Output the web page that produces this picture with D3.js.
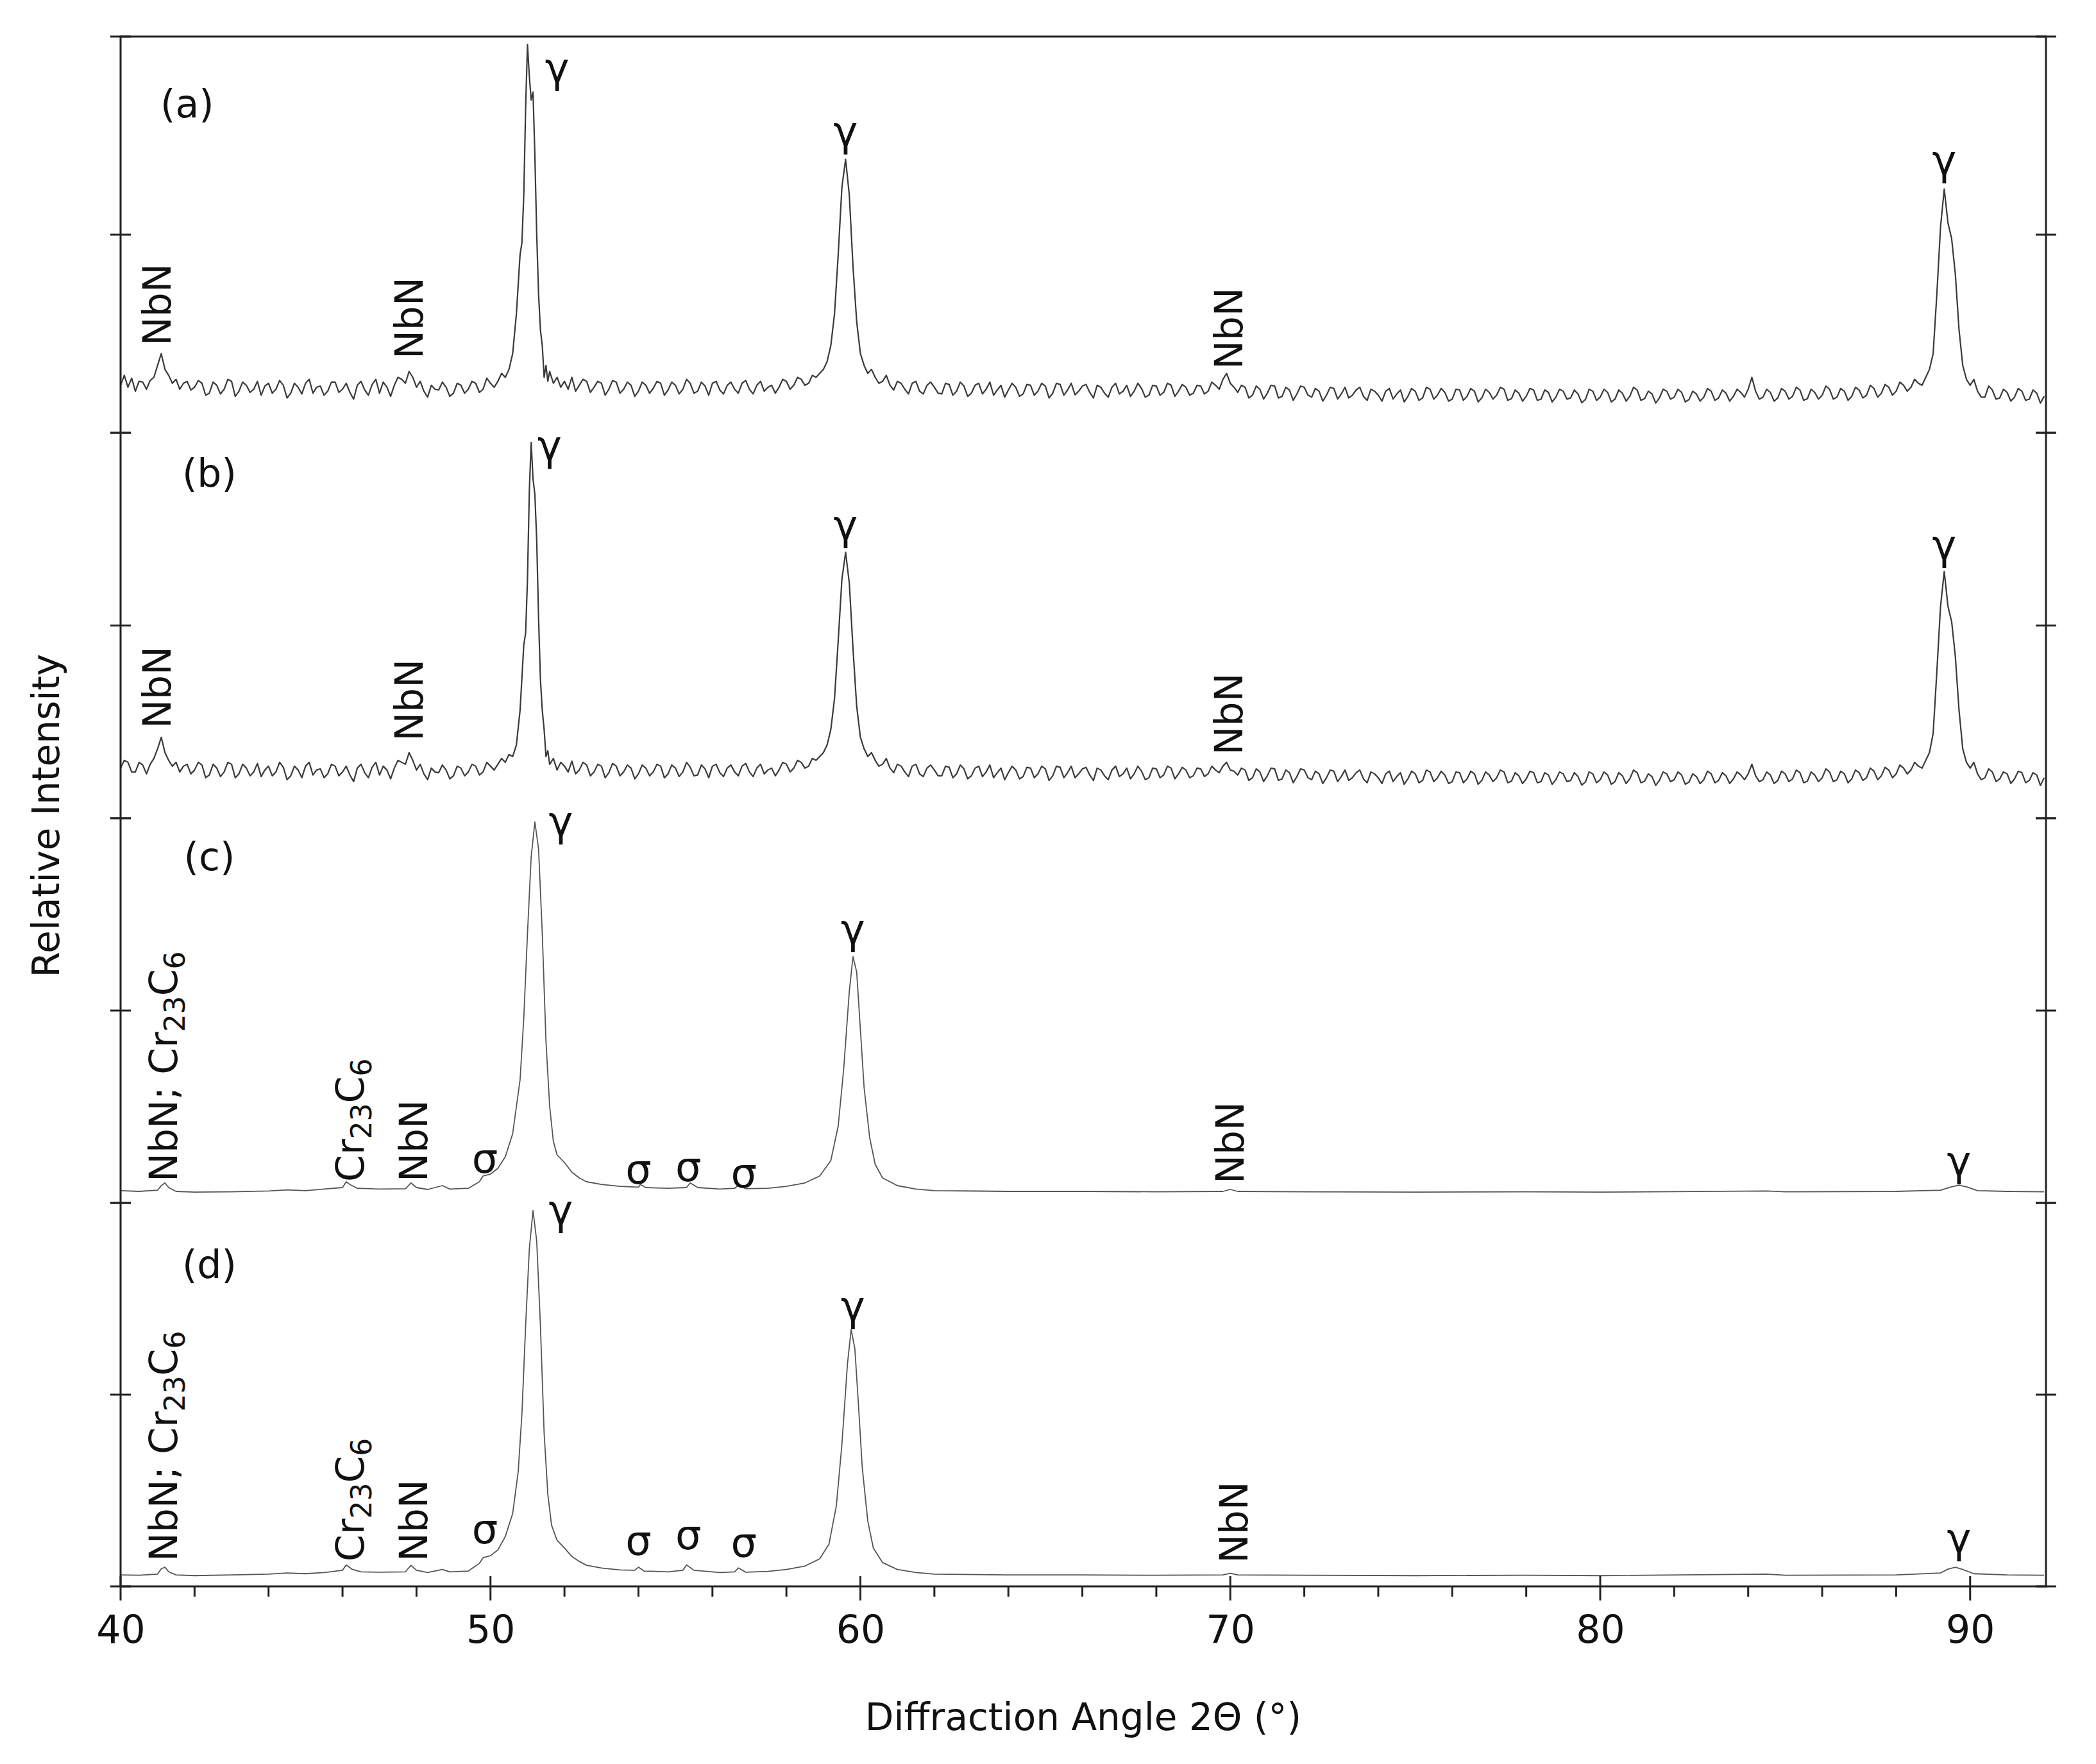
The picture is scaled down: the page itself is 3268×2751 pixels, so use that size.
<!DOCTYPE html>
<html><head><meta charset="utf-8">
<script src="https://cdn.jsdelivr.net/npm/d3@7"></script>
<style>body{margin:0;background:#fff}</style></head>
<body><svg id="c" width="3268" height="2751"></svg>
<script>
// Angle / relative intensity (0-100 within each panel)
const panelA = [[40,12],[40.1,14.5],[40.2,11.5],[40.3,13.8],[40.4,10.5],[40.5,13],[40.6,12.8],[40.7,11],[40.8,13.2],[40.9,14],[41,17],[41.1,20],[41.2,16],[41.3,14.5],[41.4,12.5],[41.5,13.5],[41.6,11],[41.7,12.5],[41.8,13],[41.9,10.8],[42,11.5],[42.1,13.2],[42.2,12.5],[42.3,9.5],[42.4,10],[42.5,12.8],[42.6,12],[42.7,9.8],[42.8,11],[42.9,13.5],[43,13],[43.1,9.2],[43.2,10.5],[43.3,12.8],[43.4,12],[43.5,10.2],[43.6,11],[43.7,13],[43.8,9.5],[43.9,11.8],[44,12.5],[44.1,10],[44.2,11],[44.3,13.2],[44.4,12],[44.5,8.8],[44.6,10],[44.7,12.5],[44.8,11.5],[44.9,9.8],[45,12.5],[45.1,13.5],[45.2,10],[45.3,11.5],[45.4,11.8],[45.5,9.5],[45.6,10.5],[45.7,12.8],[45.8,12.8],[45.9,10.2],[46,11],[46.1,12.5],[46.2,10.2],[46.3,8.5],[46.4,12],[46.5,13],[46.6,10.8],[46.7,9.5],[46.8,12.2],[46.9,13.5],[47,10],[47.1,12.8],[47.2,11.5],[47.3,9.2],[47.4,12],[47.5,14],[47.6,13.5],[47.7,12.5],[47.8,15.5],[47.9,14],[48,11.5],[48.1,13],[48.2,10.5],[48.3,9],[48.4,12],[48.5,11],[48.6,10.8],[48.7,12.8],[48.8,11.5],[48.9,9.2],[49,10],[49.1,12.5],[49.2,12],[49.3,10],[49.4,11],[49.5,13],[49.6,12.5],[49.7,10.2],[49.8,11],[49.9,13.8],[50,12.5],[50.1,11.5],[50.2,13],[50.3,15],[50.4,14],[50.5,16],[50.6,20],[50.7,30],[50.8,45],[50.85,48],[50.9,60],[50.95,82],[51,98],[51.05,90],[51.1,84],[51.15,86],[51.2,70],[51.25,50],[51.3,35],[51.35,26],[51.4,22],[51.45,14],[51.5,17],[51.55,13],[51.6,15.5],[51.7,12.5],[51.8,14],[51.9,11.5],[52,13],[52.1,11],[52.2,14],[52.3,10.5],[52.4,12],[52.5,13.5],[52.6,13],[52.7,10.2],[52.8,11.5],[52.9,13],[53,12.5],[53.1,9.5],[53.2,11],[53.3,13.2],[53.4,12.8],[53.5,10],[53.6,11],[53.7,12.8],[53.8,12],[53.9,9.2],[54,10.5],[54.1,12.8],[54.2,12],[54.3,10],[54.4,11.2],[54.5,13],[54.6,12.5],[54.7,9.5],[54.8,10.8],[54.9,12.8],[55,12],[55.1,9.8],[55.2,11],[55.3,13.5],[55.4,12.5],[55.5,10],[55.6,10.5],[55.7,12.8],[55.8,11.8],[55.9,9.5],[56,12.5],[56.1,13],[56.2,10.8],[56.3,9.8],[56.4,12],[56.5,12.8],[56.6,11],[56.7,10],[56.8,12.5],[56.9,13.2],[57,11],[57.1,9.8],[57.2,12],[57.3,13],[57.4,10.5],[57.5,11.5],[57.6,12],[57.7,10],[57.8,11.5],[57.9,13.5],[58,13],[58.1,11],[58.2,12],[58.3,14],[58.4,13.5],[58.5,12],[58.6,12.5],[58.7,14.5],[58.8,14],[58.9,15],[59,16],[59.1,18],[59.2,22],[59.3,30],[59.4,45],[59.5,62],[59.6,69],[59.7,60],[59.8,42],[59.9,28],[60,20],[60.1,17],[60.2,15],[60.3,16],[60.4,14],[60.5,12.5],[60.6,13],[60.7,14.5],[60.8,12],[60.9,10.8],[61,13],[61.1,12.5],[61.2,11],[61.3,9.8],[61.4,12.5],[61.5,13],[61.6,10.5],[61.7,9.8],[61.8,12],[61.9,12.8],[62,11.5],[62.1,10],[62.2,9.8],[62.3,12.5],[62.4,12.2],[62.5,9.5],[62.6,10.5],[62.7,12.8],[62.8,11.8],[62.9,9.2],[63,10],[63.1,12],[63.2,12.5],[63.3,9.8],[63.4,11],[63.5,12.8],[63.6,9.5],[63.7,10.8],[63.8,12],[63.9,9],[64,10.8],[64.1,12.5],[64.2,11.5],[64.3,9.2],[64.4,9.8],[64.5,12.2],[64.6,12],[64.7,9.5],[64.8,10.5],[64.9,12.5],[65,11.8],[65.1,8.8],[65.2,10],[65.3,12.5],[65.4,12.2],[65.5,9.5],[65.6,10.8],[65.7,12.5],[65.8,9.6],[65.9,10.5],[66,11.8],[66.1,12.2],[66.2,10.2],[66.3,8.8],[66.4,12],[66.5,11.5],[66.6,10],[66.7,9],[66.8,11.5],[66.9,12.5],[67,9.8],[67.1,10.5],[67.2,12],[67.3,9.2],[67.4,10.5],[67.5,12.5],[67.6,11.2],[67.7,9],[67.8,9.5],[67.9,12],[68,11.8],[68.1,9.5],[68.2,10.2],[68.3,12.5],[68.4,12],[68.5,9.2],[68.6,10.5],[68.7,12.2],[68.8,11.5],[68.9,9.5],[69,10],[69.1,12],[69.2,11.8],[69.3,9.8],[69.4,10.5],[69.5,12.8],[69.6,12],[69.7,11],[69.8,13.5],[69.9,15],[70,12.5],[70.1,11.5],[70.2,10.2],[70.3,12],[70.4,11.5],[70.5,8.8],[70.6,9.5],[70.7,11.8],[70.8,11],[70.9,8.5],[71,10],[71.1,12],[71.2,11.8],[71.3,8.8],[71.4,9.2],[71.5,11.5],[71.6,10.8],[71.7,8.2],[71.8,9.8],[71.9,11.8],[72,11.5],[72.1,9.5],[72.2,9],[72.3,11.2],[72.4,10.5],[72.5,8],[72.6,9.5],[72.7,11.5],[72.8,11.2],[72.9,8.5],[73,9.8],[73.1,11.5],[73.2,8.8],[73.3,9.5],[73.4,10.8],[73.5,11.5],[73.6,9.2],[73.7,8.2],[73.8,11],[73.9,10.5],[74,9.5],[74.1,8],[74.2,10.5],[74.3,11.2],[74.4,8.5],[74.5,9.8],[74.6,10.8],[74.7,7.8],[74.8,9.2],[74.9,11.2],[75,10.5],[75.1,8.2],[75.2,8.8],[75.3,11.5],[75.4,11],[75.5,8.5],[75.6,9.5],[75.7,11.2],[75.8,10.2],[75.9,8],[76,8.5],[76.1,11],[76.2,10.8],[76.3,8.2],[76.4,9.2],[76.5,11.2],[76.6,10.5],[76.7,7.8],[76.8,8.8],[76.9,11],[77,10.2],[77.1,8.5],[77.2,9.5],[77.3,11.5],[77.4,11],[77.5,8.2],[77.6,8.6],[77.7,10.8],[77.8,10],[77.9,8],[78,9.2],[78.1,11.2],[78.2,10.8],[78.3,8.2],[78.4,8.5],[78.5,10.8],[78.6,10.2],[78.7,7.8],[78.8,9],[78.9,11],[79,10.5],[79.1,8.5],[79.2,8.8],[79.3,10.8],[79.4,9.8],[79.5,7.6],[79.6,8.4],[79.7,11],[79.8,10.5],[79.9,8.2],[80,9],[80.1,11],[80.2,10.2],[80.3,7.8],[80.4,8.5],[80.5,10.8],[80.6,10],[80.7,8],[80.8,9.2],[80.9,11.5],[81,10.8],[81.1,8.2],[81.2,8.6],[81.3,10.5],[81.4,9.8],[81.5,7.5],[81.6,8.8],[81.7,11],[81.8,10.5],[81.9,8.5],[82,9],[82.1,11],[82.2,10.2],[82.3,7.8],[82.4,8.4],[82.5,10.5],[82.6,9.8],[82.7,8],[82.8,9],[82.9,11.2],[83,10.5],[83.1,8.2],[83.2,8.8],[83.3,10.8],[83.4,10],[83.5,8],[83.6,9.2],[83.7,11],[83.8,10.2],[83.9,9],[84,11],[84.1,14],[84.2,10.5],[84.3,8.5],[84.4,9],[84.5,11],[84.6,10.2],[84.7,8],[84.8,8.8],[84.9,11.2],[85,10.5],[85.1,8.5],[85.2,9.2],[85.3,11.5],[85.4,10.8],[85.5,8.2],[85.6,8.6],[85.7,11],[85.8,10.2],[85.9,8.5],[86,9.5],[86.1,11.8],[86.2,11],[86.3,8.5],[86.4,9],[86.5,11.2],[86.6,10.5],[86.7,8.2],[86.8,9.2],[86.9,11.5],[87,10.8],[87.1,8.8],[87.2,9.5],[87.3,12],[87.4,11.2],[87.5,9],[87.6,10],[87.7,12.2],[87.8,11.5],[87.9,9.5],[88,10.5],[88.1,12.8],[88.2,12],[88.3,10.5],[88.4,11.5],[88.5,13.5],[88.6,12.5],[88.7,12],[88.8,14],[88.9,16],[89,20],[89.1,35],[89.2,52],[89.3,61.5],[89.4,53],[89.5,49],[89.6,40],[89.7,26],[89.8,17],[89.9,13.5],[90,12],[90.1,13.5],[90.2,10.5],[90.3,9],[90.4,9],[90.5,11.8],[90.6,10.8],[90.7,8.5],[90.8,8.8],[90.9,11],[91,10.2],[91.1,8],[91.2,9],[91.3,11.2],[91.4,10.5],[91.5,8.2],[91.6,8.5],[91.7,10.8],[91.8,10],[91.9,7.5],[92,9.2]];

const panelB = [[40,13],[40.1,15],[40.2,14.5],[40.3,12],[40.4,12],[40.5,14.5],[40.6,13.8],[40.7,11.5],[40.8,14],[40.9,15.5],[41,18],[41.1,21],[41.2,17],[41.3,15],[41.4,13.5],[41.5,14.5],[41.6,12],[41.7,13.5],[41.8,14],[41.9,11.5],[42,12.5],[42.1,14.5],[42.2,13.8],[42.3,10.5],[42.4,11.2],[42.5,14],[42.6,13],[42.7,10.8],[42.8,12],[42.9,14.5],[43,14],[43.1,10.5],[43.2,11.5],[43.3,14],[43.4,13],[43.5,11],[43.6,12],[43.7,14.2],[43.8,10.8],[43.9,12.5],[44,13.5],[44.1,11],[44.2,12],[44.3,14.5],[44.4,13.2],[44.5,10],[44.6,11],[44.7,13.5],[44.8,12.5],[44.9,10.5],[45,13.5],[45.1,14.5],[45.2,11.2],[45.3,12.5],[45.4,12.8],[45.5,10.5],[45.6,11.5],[45.7,14],[45.8,13.5],[45.9,11],[46,12],[46.1,13.5],[46.2,11.2],[46.3,9.5],[46.4,13],[46.5,14],[46.6,11.8],[46.7,10.5],[46.8,13.2],[46.9,14.5],[47,11.2],[47.1,13.5],[47.2,12.5],[47.3,10.2],[47.4,13],[47.5,15],[47.6,14.5],[47.7,14],[47.8,17],[47.9,15],[48,12.5],[48.1,14],[48.2,11.5],[48.3,10],[48.4,13],[48.5,12],[48.6,11.8],[48.7,13.8],[48.8,12.5],[48.9,10.2],[49,11],[49.1,13.5],[49.2,13],[49.3,11],[49.4,12],[49.5,14],[49.6,13.5],[49.7,11.2],[49.8,12],[49.9,14.5],[50,13.5],[50.1,12.5],[50.2,14],[50.3,15.5],[50.4,14.5],[50.5,16.5],[50.6,16],[50.7,19],[50.8,28],[50.9,45],[50.95,48],[51,62],[51.05,85],[51.1,97.5],[51.15,88],[51.2,84],[51.25,72],[51.3,52],[51.35,36],[51.4,28],[51.45,23],[51.5,16],[51.55,17.5],[51.6,14],[51.7,15.5],[51.8,12.5],[51.9,14.5],[52,13.5],[52.1,12],[52.2,14.8],[52.3,11.5],[52.4,12.5],[52.5,14.5],[52.6,13.8],[52.7,11],[52.8,12],[52.9,14],[53,13.5],[53.1,10.5],[53.2,11.8],[53.3,14.2],[53.4,13.5],[53.5,11],[53.6,12],[53.7,13.8],[53.8,13],[53.9,10.2],[54,11.5],[54.1,13.8],[54.2,13],[54.3,11],[54.4,12],[54.5,14],[54.6,13.5],[54.7,10.5],[54.8,11.5],[54.9,13.8],[55,13],[55.1,10.8],[55.2,12],[55.3,14.5],[55.4,13.2],[55.5,11],[55.6,11.2],[55.7,13.8],[55.8,12.8],[55.9,10.5],[56,13.5],[56.1,14],[56.2,11.8],[56.3,10.8],[56.4,13],[56.5,13.8],[56.6,12],[56.7,11],[56.8,13.5],[56.9,14.2],[57,12],[57.1,10.8],[57.2,13],[57.3,14],[57.4,11.5],[57.5,12.5],[57.6,13],[57.7,11],[57.8,12.5],[57.9,14.5],[58,14],[58.1,12],[58.2,13],[58.3,15],[58.4,14.5],[58.5,13],[58.6,13.5],[58.7,15.5],[58.8,15],[58.9,16],[59,17],[59.1,19],[59.2,23],[59.3,31],[59.4,46],[59.5,62],[59.6,69],[59.7,61],[59.8,44],[59.9,29],[60,21],[60.1,18],[60.2,16],[60.3,17],[60.4,15],[60.5,13.5],[60.6,14],[60.7,15.5],[60.8,13],[60.9,11.8],[61,14],[61.1,13.5],[61.2,12],[61.3,10.8],[61.4,13.5],[61.5,14],[61.6,11.5],[61.7,10.8],[61.8,13],[61.9,13.8],[62,12.5],[62.1,11],[62.2,11],[62.3,13.5],[62.4,13.2],[62.5,10.5],[62.6,11.5],[62.7,13.8],[62.8,12.8],[62.9,10.2],[63,11],[63.1,13],[63.2,13.5],[63.3,10.8],[63.4,12],[63.5,13.8],[63.6,10.5],[63.7,11.8],[63.8,13],[63.9,10],[64,11.8],[64.1,13.5],[64.2,12.5],[64.3,10.2],[64.4,10.8],[64.5,13.2],[64.6,13],[64.7,10.5],[64.8,11.5],[64.9,13.5],[65,12.8],[65.1,9.8],[65.2,11],[65.3,13.5],[65.4,13.2],[65.5,10.5],[65.6,11.8],[65.7,13.5],[65.8,10.5],[65.9,11.5],[66,12.8],[66.1,13.2],[66.2,11.2],[66.3,9.8],[66.4,13],[66.5,12.5],[66.6,11],[66.7,10],[66.8,12.5],[66.9,13.5],[67,10.8],[67.1,11.5],[67.2,13],[67.3,10.2],[67.4,11.5],[67.5,13.5],[67.6,12.2],[67.7,10],[67.8,10.5],[67.9,13],[68,12.8],[68.1,10.5],[68.2,11.2],[68.3,13.5],[68.4,13],[68.5,10.2],[68.6,11.5],[68.7,13.2],[68.8,12.5],[68.9,10.5],[69,11],[69.1,13],[69.2,12.8],[69.3,10.8],[69.4,11.5],[69.5,13.5],[69.6,12.5],[69.7,11.8],[69.8,13.5],[69.9,14.5],[70,12.5],[70.1,12.2],[70.2,11.2],[70.3,13],[70.4,12.5],[70.5,9.8],[70.6,10.5],[70.7,12.8],[70.8,12],[70.9,9.5],[71,11],[71.1,13],[71.2,12.8],[71.3,9.8],[71.4,10.2],[71.5,12.5],[71.6,11.8],[71.7,9.2],[71.8,10.8],[71.9,12.8],[72,12.5],[72.1,10.5],[72.2,10],[72.3,12.2],[72.4,11.5],[72.5,9],[72.6,10.5],[72.7,12.5],[72.8,12.2],[72.9,9.5],[73,10.8],[73.1,12.5],[73.2,9.8],[73.3,10.5],[73.4,11.8],[73.5,12.5],[73.6,10.2],[73.7,9.2],[73.8,12],[73.9,11.5],[74,10.5],[74.1,9],[74.2,11.5],[74.3,12.2],[74.4,9.5],[74.5,10.8],[74.6,11.8],[74.7,8.8],[74.8,10.2],[74.9,12.2],[75,11.5],[75.1,9.2],[75.2,9.8],[75.3,12.5],[75.4,12],[75.5,9.5],[75.6,10.5],[75.7,12.2],[75.8,11.2],[75.9,9],[76,9.5],[76.1,12],[76.2,11.8],[76.3,9.2],[76.4,10.2],[76.5,12.2],[76.6,11.5],[76.7,8.8],[76.8,9.8],[76.9,12],[77,11.2],[77.1,9.5],[77.2,10.5],[77.3,12.5],[77.4,12],[77.5,9.2],[77.6,9.6],[77.7,11.8],[77.8,11],[77.9,9],[78,10.2],[78.1,12.2],[78.2,11.8],[78.3,9.2],[78.4,9.5],[78.5,11.8],[78.6,11.2],[78.7,8.8],[78.8,10],[78.9,12],[79,11.5],[79.1,9.5],[79.2,9.8],[79.3,11.8],[79.4,10.8],[79.5,8.6],[79.6,9.4],[79.7,12],[79.8,11.5],[79.9,9.2],[80,10],[80.1,12],[80.2,11.2],[80.3,8.8],[80.4,9.5],[80.5,11.8],[80.6,11],[80.7,9],[80.8,10.2],[80.9,12.5],[81,11.8],[81.1,9.2],[81.2,9.6],[81.3,11.5],[81.4,10.8],[81.5,8.5],[81.6,9.8],[81.7,12],[81.8,11.5],[81.9,9.5],[82,10],[82.1,12],[82.2,11.2],[82.3,8.8],[82.4,9.4],[82.5,11.5],[82.6,10.8],[82.7,9],[82.8,10],[82.9,12.2],[83,11.5],[83.1,9.2],[83.2,9.8],[83.3,11.8],[83.4,11],[83.5,9],[83.6,10.2],[83.7,12],[83.8,11.2],[83.9,10],[84,11.5],[84.1,14],[84.2,11],[84.3,9.5],[84.4,10],[84.5,12],[84.6,11.2],[84.7,9],[84.8,9.8],[84.9,12.2],[85,11.5],[85.1,9.5],[85.2,10.2],[85.3,12.5],[85.4,11.8],[85.5,9.2],[85.6,9.6],[85.7,12],[85.8,11.2],[85.9,9.5],[86,10.5],[86.1,12.8],[86.2,12],[86.3,9.5],[86.4,10],[86.5,12.2],[86.6,11.5],[86.7,9.2],[86.8,10.2],[86.9,12.5],[87,11.8],[87.1,9.8],[87.2,10.5],[87.3,13],[87.4,12.2],[87.5,10],[87.6,11],[87.7,13.2],[87.8,12.5],[87.9,10.5],[88,11.5],[88.1,13.8],[88.2,13],[88.3,11.5],[88.4,12.5],[88.5,14.5],[88.6,13.5],[88.7,13],[88.8,15],[88.9,17],[89,22],[89.1,38],[89.2,55],[89.3,64],[89.4,55],[89.5,51],[89.6,42],[89.7,28],[89.8,18],[89.9,14.5],[90,13],[90.1,14.5],[90.2,11.5],[90.3,10],[90.4,10.5],[90.5,12.8],[90.6,12],[90.7,9.5],[90.8,10.2],[90.9,12],[91,11.5],[91.1,9],[91.2,10.2],[91.3,12.2],[91.4,11.8],[91.5,9.2],[91.6,9.8],[91.7,11.8],[91.8,11.2],[91.9,8.5],[92,10.5]];

const panelC = [[40,3.2],[40.5,3.0],[41,3.3],[41.1,4.5],[41.2,5.2],[41.3,4.0],[41.5,3.0],[42,2.8],[43,2.9],[44,3.1],[44.5,3.4],[45,3.2],[45.5,3.6],[46,4.0],[46.1,5.5],[46.2,4.8],[46.4,3.8],[47,3.6],[47.7,3.7],[47.85,5.2],[48,4.0],[48.3,3.5],[48.7,4.5],[48.9,3.6],[49.4,3.8],[49.7,5.5],[49.8,7],[50,7.5],[50.2,9],[50.4,12],[50.6,18],[50.8,32],[50.9,48],[51,70],[51.1,90],[51.2,99],[51.3,92],[51.4,70],[51.5,42],[51.6,25],[51.7,16],[51.8,12.5],[52,10.5],[52.2,8],[52.4,6.5],[52.6,5.5],[53,4.8],[53.5,4.3],[54,4.1],[54.05,4.8],[54.2,4],[54.8,3.8],[55.3,4.0],[55.4,5.2],[55.6,4.0],[56.2,3.6],[56.6,3.8],[56.7,4.6],[56.9,3.7],[57.5,3.8],[58,4.3],[58.5,5.2],[58.9,7],[59.2,11],[59.4,20],[59.55,35],[59.7,55],[59.8,64],[59.9,60],[60,45],[60.1,30],[60.25,17],[60.4,10],[60.6,6.5],[61,4.5],[61.5,3.6],[62,3.2],[64,3.0],[66,3.0],[68,2.9],[69.8,3.0],[70,3.5],[70.2,3.0],[72,2.9],[75,2.8],[78,2.9],[80,2.8],[84.5,3.1],[85,2.9],[88,3.0],[89.2,3.3],[89.5,4.2],[89.7,4.6],[89.9,4.2],[90.2,3.2],[91,3.0],[92,2.9]];

const panelD = [[40,3.0],[40.5,2.9],[41,3.2],[41.1,4.6],[41.2,5.0],[41.3,3.8],[41.5,3.0],[42,2.8],[43,3.0],[44,3.2],[44.5,3.5],[45,3.3],[45.5,3.6],[46,4.2],[46.1,5.6],[46.25,4.5],[46.5,3.8],[47,3.7],[47.7,3.8],[47.85,5.5],[48,4.2],[48.3,3.6],[48.7,4.4],[48.9,3.8],[49.4,4.0],[49.7,6],[49.8,7.5],[50,8],[50.2,9.5],[50.4,13],[50.6,19],[50.75,30],[50.85,45],[50.95,68],[51.05,88],[51.15,98],[51.25,90],[51.35,68],[51.45,40],[51.55,24],[51.65,16],[51.8,12],[52,10],[52.2,7.8],[52.4,6.5],[52.6,5.5],[53,4.8],[53.5,4.3],[53.9,4.2],[54,5.0],[54.15,4.0],[54.8,3.8],[55.2,4.2],[55.3,5.6],[55.5,4.2],[56.2,3.6],[56.6,3.8],[56.7,4.8],[56.9,3.7],[57.5,3.9],[58,4.4],[58.5,5.3],[58.9,7.2],[59.15,11],[59.35,21],[59.5,37],[59.65,58],[59.75,67],[59.85,62],[59.95,47],[60.05,31],[60.2,17],[60.35,10],[60.6,6.2],[61,4.4],[61.5,3.6],[62,3.2],[64,3.0],[66,3.0],[68,2.9],[69.8,3.0],[70,3.4],[70.2,3.0],[72,2.9],[75,2.8],[78,2.9],[80,2.8],[84.5,3.2],[85,2.9],[88,3.0],[89.2,3.5],[89.4,4.5],[89.6,5.0],[89.8,4.4],[90.1,3.3],[91,3.0],[92,2.9]];

const series = [panelA, panelB, panelC, panelD];
const xTicks = [40,50,60,70,80,90];
// labels: [panel, text, angle, intensity, rotated]
const peakLabels = [
 [0,"(a)",41.8,83,0],[0,"γ",51.8,92,0],[0,"γ",59.6,76,0],[0,"γ",89.3,68.6,0],
 [0,"NbN",40.98,22,1],[0,"NbN",47.8,18.6,1],[0,"NbN",69.96,16,1],
 [1,"(b)",42.4,89.5,0],[1,"γ",51.6,96.5,0],[1,"γ",59.6,76,0],[1,"γ",89.3,70.7,0],
 [1,"NbN",40.98,23.3,1],[1,"NbN",47.8,20,1],[1,"NbN",69.96,16.4,1],
 [2,"(c)",42.4,90,0],[2,"γ",51.9,99,0],[2,"γ",59.8,71,0],[2,"γ",89.7,10.8,0],
 [2,"NbN; Cr23C6",41.16,5.5,1],[2,"Cr23C6",46.2,5.5,1],[2,"NbN",47.93,5.5,1],[2,"NbN",70.0,5,1],
 [2,"σ",49.85,11.5,0],[2,"σ",54.0,8.7,0],[2,"σ",55.35,9.4,0],[2,"σ",56.85,7.7,0],
 [3,"(d)",42.4,84,0],[3,"γ",51.9,98,0],[3,"γ",59.8,73,0],[3,"γ",89.7,12.5,0],
 [3,"NbN; Cr23C6",41.16,6.5,1],[3,"Cr23C6",46.2,6.5,1],[3,"NbN",47.93,6.5,1],[3,"NbN",70.1,6,1],
 [3,"σ",49.85,15,0],[3,"σ",54.0,12,0],[3,"σ",55.35,13.5,0],[3,"σ",56.85,11.5,0]
];

const L=188, R=3190, T=57, B=2474;
const svg=d3.select("#c");
const F="DejaVu Sans";
const FS=60;
const x=d3.scaleLinear().domain([40,92.05]).range([L,R]);
const bounds=[T,675,1276,1876,B];
const ys=bounds.slice(0,4).map((t,i)=>d3.scaleLinear().domain([0,100]).range([bounds[i+1],t]));

const line=(y)=>d3.line().x(d=>x(d[0])).y(d=>y(d[1]));
series.forEach((s,i)=>{
  svg.append("path").datum(s).attr("d",line(ys[i])).attr("fill","none")
    .attr("stroke", i<2?"#3a3a3a":"#555").attr("stroke-width", i<2?2.2:1.8).attr("stroke-linejoin","round");
});

svg.append("rect").attr("x",L).attr("y",T).attr("width",R-L).attr("height",B-T)
  .attr("fill","none").attr("stroke","#222").attr("stroke-width",3);

const yt=[];
ys.forEach(y=>{yt.push(y(0),y(50),y(100));});
[L,R].forEach(px=>{
  yt.forEach(v=>svg.append("line").attr("x1",px-16).attr("x2",px+16).attr("y1",v).attr("y2",v).attr("stroke","#222").attr("stroke-width",3));
});

const ax=d3.axisBottom(x).tickValues(xTicks).tickSize(0).tickFormat(d3.format("d"));
const g=svg.append("g").attr("transform",`translate(0,${B})`).call(ax);
g.select(".domain").remove();
g.selectAll("text").attr("font-family",F).attr("font-size",FS).attr("fill","#111").attr("y",88).attr("dy",0);
xTicks.forEach(v=>svg.append("line").attr("x1",x(v)).attr("x2",x(v)).attr("y1",B-16).attr("y2",B+22).attr("stroke","#222").attr("stroke-width",3));
d3.range(42,92,2).filter(v=>v%10!==0).forEach(v=>svg.append("line").attr("x1",x(v)).attr("x2",x(v)).attr("y1",B).attr("y2",B+16).attr("stroke","#222").attr("stroke-width",3));

svg.append("text").attr("x",(L+R)/2).attr("y",2698).attr("text-anchor","middle")
  .attr("font-family",F).attr("font-size",58).attr("fill","#111").text("Diffraction Angle 2Θ (°)");
svg.append("text").attr("transform",`translate(92,${1272}) rotate(-90)`).attr("text-anchor","middle")
  .attr("font-family",F).attr("font-size",58).attr("fill","#111").text("Relative Intensity");

function addText(sel,t){
  const parts=t.split(/(23|6$)/).filter(p=>p!=="");
  parts.forEach(p=>{
    if(p==="23"||p==="6"){ sel.append("tspan").attr("baseline-shift","-28%").attr("font-size",44).text(p); }
    else sel.append("tspan").text(p);
  });
}
peakLabels.forEach(([p,t,a,v,rot])=>{
  const px=x(a), py=ys[p](v);
  if(rot){
    const tx=svg.append("text").attr("transform",`translate(${px},${py}) rotate(-90)`)
      .attr("font-family",F).attr("font-size",FS).attr("fill","#111").attr("dy","0.35em");
    addText(tx,t);
  } else {
    svg.append("text").attr("x",px).attr("y",py).attr("text-anchor","middle").attr("dy","0.35em")
      .attr("font-family",F).attr("font-size",t.length>1?FS:64).attr("fill","#111").text(t);
  }
});
</script></body></html>
